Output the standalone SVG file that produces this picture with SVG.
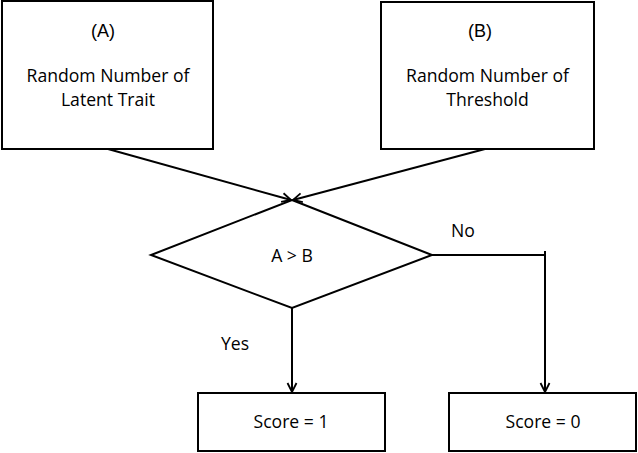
<svg xmlns="http://www.w3.org/2000/svg" width="638" height="453" viewBox="0 0 638 453">
<style>
.box{fill:#fff;stroke:#000;stroke-width:2}
.t{font-family:"Open Sans","Liberation Sans",sans-serif;font-size:17.6px;fill:#000;text-anchor:middle}
.lab{font-family:"Liberation Sans",Arial,sans-serif;font-size:18px;fill:#000;text-anchor:middle}
.c{fill:none;stroke:#000;stroke-width:2}
</style>
<defs>
<marker id="ah" markerWidth="12" markerHeight="12" refX="10" refY="5" orient="auto" markerUnits="userSpaceOnUse" viewBox="0 0 12 10">
<path d="M1,0.5 L10,5 L1,9.5" fill="none" stroke="#000" stroke-width="1.8"/>
</marker>
</defs>
<rect width="638" height="453" fill="#fff"/>
<g id="connectors">
<line class="c" x1="108" y1="149" x2="291" y2="200" marker-end="url(#ah)"/>
<line class="c" x1="485" y1="149" x2="293" y2="200" marker-end="url(#ah)"/>
<line class="c" x1="292" y1="308" x2="292" y2="392" marker-end="url(#ah)"/>
<polyline class="c" points="432,255 545,255"/>
<line class="c" x1="545" y1="251" x2="545" y2="392" marker-end="url(#ah)"/>
<text class="t" x="463" y="237">No</text>
<text class="t" x="235" y="350">Yes</text>
</g>
<g id="nodeA">
<rect class="box" x="2" y="1" width="211" height="148"/>
<text class="lab" x="103" y="37">(A)</text>
<text class="t" x="108" y="82">Random Number of</text>
<text class="t" x="108" y="106">Latent Trait</text>
</g>
<g id="nodeB">
<rect class="box" x="381" y="2" width="213" height="147"/>
<text class="lab" x="480" y="37">(B)</text>
<text class="t" x="487.5" y="82">Random Number of</text>
<text class="t" x="487.5" y="106">Threshold</text>
</g>
<g id="decision">
<polygon class="box" points="292,200 432,255 292,308 151,255"/>
<text class="t" x="292" y="262">A &gt; B</text>
</g>
<g id="score1">
<rect class="box" x="198" y="393" width="187" height="58"/>
<text class="t" x="291" y="428">Score = 1</text>
</g>
<g id="score0">
<rect class="box" x="449" y="393" width="187" height="58"/>
<text class="t" x="543" y="428">Score = 0</text>
</g>
</svg>
